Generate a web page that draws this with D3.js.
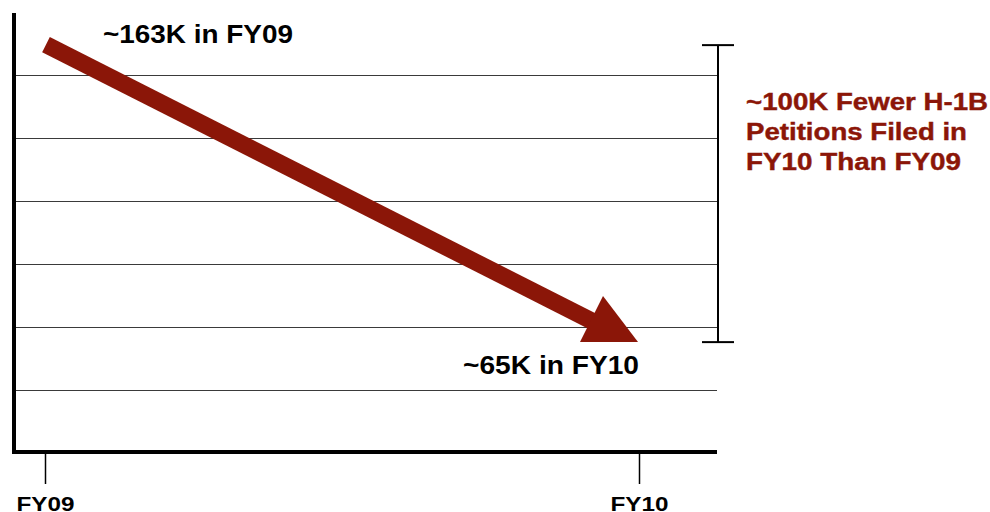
<!DOCTYPE html>
<html><head><meta charset="utf-8">
<script src="https://cdn.jsdelivr.net/npm/d3@7"></script>
<style>body{margin:0;background:#fff}svg{display:block}</style>
</head><body>
<svg id="c" width="990" height="512"></svg>
<script>
const years = ["FY09", "FY10"];
const petitions = [163, 65]; // thousands
const gridValues = [49.2, 70.0, 90.8, 111.6, 132.4, 153.2];
const startLabel = "~163K in FY09";
const endLabel = "~65K in FY10";
const noteLines = ["~100K Fewer H-1B", "Petitions Filed in", "FY10 Than FY09"];

const red = "#8b1608";
const font = "Liberation Sans, Arial, Helvetica, sans-serif";
const svg = d3.select("#c");

const x = d3.scalePoint().domain(years).range([45, 639]);
const y = d3.scaleLinear().domain([29.4, 173.6]).range([450, 13]);
const plotRight = 717;

// gridlines
svg.append("g").selectAll("line").data(gridValues).join("line")
  .attr("x1", 14).attr("x2", plotRight)
  .attr("y1", d => Math.round(y(d)) + 0.5).attr("y2", d => Math.round(y(d)) + 0.5)
  .attr("stroke", "#3a3a3a").attr("stroke-width", 1.2);

// axes
svg.append("line").attr("x1", 14).attr("x2", 14).attr("y1", y.range()[1]).attr("y2", 454)
  .attr("stroke", "#000").attr("stroke-width", 4);
svg.append("line").attr("x1", 12).attr("x2", plotRight).attr("y1", 452).attr("y2", 452)
  .attr("stroke", "#000").attr("stroke-width", 4);

const xAxis = d3.axisBottom(x).tickSize(30).tickPadding(10);
const gx = svg.append("g").attr("transform", "translate(0,454)").call(xAxis);
gx.select(".domain").remove();
gx.selectAll(".tick line").attr("stroke", "#000").attr("stroke-width", 1.5);
gx.selectAll(".tick text").attr("font-family", font).attr("font-weight", "bold")
  .attr("font-size", 20).attr("fill", "#000").attr("dy", "0.85em")
  .attr("textLength", 58).attr("lengthAdjust", "spacingAndGlyphs");

// arrow shaft
const x0 = x(years[0]) + 1, y0 = y(petitions[0]) - 0.5;
const px = x(years[1]), py = y(petitions[1]);
const x1 = px - 39, y1 = py - 17;
svg.append("line").attr("x1", x0).attr("y1", y0).attr("x2", x1).attr("y2", y1)
  .attr("stroke", red).attr("stroke-width", 17);
// arrow head
svg.append("path")
  .attr("d", d3.line()([[px - 59, py], [px - 1, py], [px - 36, py - 46]]) + "Z")
  .attr("fill", red);

// bracket
const bx = 718;
const by0 = y(petitions[0]), by1 = y(petitions[1]);
const br = svg.append("g").attr("stroke", "#000").attr("stroke-width", 2);
br.append("line").attr("x1", bx).attr("x2", bx).attr("y1", by0).attr("y2", by1);
br.append("line").attr("x1", bx - 16).attr("x2", bx + 16).attr("y1", by0).attr("y2", by0);
br.append("line").attr("x1", bx - 16).attr("x2", bx + 16).attr("y1", by1).attr("y2", by1);

// labels
svg.append("text").attr("x", 103).attr("y", 43).text(startLabel)
  .attr("font-family", font).attr("font-weight", "bold").attr("font-size", 25).attr("fill", "#000")
  .attr("textLength", 190).attr("lengthAdjust", "spacingAndGlyphs");
svg.append("text").attr("x", 463).attr("y", 374).text(endLabel)
  .attr("font-family", font).attr("font-weight", "bold").attr("font-size", 25).attr("fill", "#000")
  .attr("textLength", 176).attr("lengthAdjust", "spacingAndGlyphs");

const noteWidths = [242, 221, 215];
svg.append("g").selectAll("text").data(noteLines).join("text")
  .attr("x", 746).attr("y", (d, i) => 110 + i * 30).text(d => d)
  .attr("font-family", font).attr("font-weight", "bold").attr("font-size", 23).attr("fill", red)
  .attr("stroke", red).attr("stroke-width", 0.4)
  .attr("textLength", (d, i) => noteWidths[i]).attr("lengthAdjust", "spacingAndGlyphs");
</script>
</body></html>
